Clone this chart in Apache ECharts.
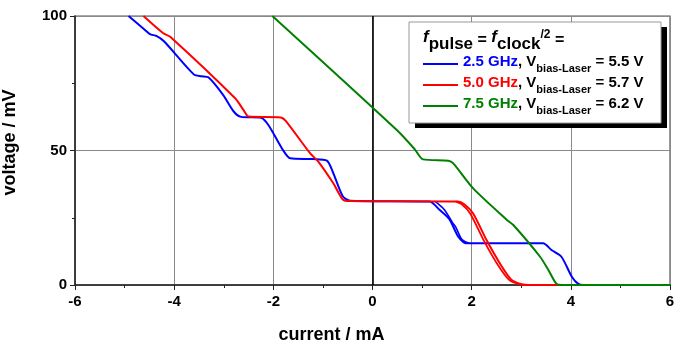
<!DOCTYPE html>
<html>
<head>
<meta charset="utf-8">
<script src="https://cdn.jsdelivr.net/npm/echarts@6/dist/echarts.min.js"></script>
<style>
  html, body { margin: 0; padding: 0; background: #fff; }
  #chart { width: 690px; height: 347px; }
</style>
</head>
<body>
<div id="chart"></div>
<script>
// values: [current mA, voltage mV]
const blue25 = [
  [-4.92, 100], [-4.6, 95], [-4.49, 93.3], [-4.35, 92.5], [-4.2, 90.5], [-3.6, 78.2],
  [-3.45, 77.6], [-3.31, 77.2], [-3.01, 70.6], [-2.8, 64.5], [-2.65, 62.5], [-2.25, 62.2],
  [-2.1, 59.5], [-1.8, 50], [-1.66, 47.1], [-1.2, 46.8], [-0.92, 46.2], [-0.8, 42],
  [-0.6, 33], [-0.45, 31.3], [1.15, 31], [1.35, 28], [1.55, 24.5], [1.73, 18],
  [1.9, 15.5], [3.44, 15.5], [3.61, 13], [3.81, 10.5], [4.02, 3.1], [4.15, 0.4],
  [4.25, 0], [4.5, 0],
];
const blue25Return = [
  [1.27, 31], [1.45, 28], [1.62, 23], [1.68, 21.5], [1.8, 17], [1.95, 15.5],
];
const red50 = [
  [-4.62, 100], [-4.22, 93.6], [-4.08, 92.3], [-2.77, 69.4], [-2.6, 65], [-2.5, 62.6],
  [-1.85, 62.3], [-1.75, 61], [-1.26, 49], [-1.09, 45.8], [-0.79, 37.8], [-0.6, 31.8],
  [-0.45, 31.2], [1.72, 31], [1.85, 30], [2.03, 26.6], [2.3, 16.7], [2.57, 8],
  [2.8, 2], [3.0, 0.3], [3.15, 0], [6, 0],
];
const red50Return = [
  [1.68, 31], [1.8, 30], [1.97, 26.6], [2.24, 16.7], [2.51, 8], [2.75, 2], [2.95, 0.3], [3.1, 0],
];
const green75 = [
  [-2.02, 100], [0.49, 57.6], [0.85, 50.5], [1.02, 46.7], [1.53, 46.2], [1.63, 45.2],
  [2.03, 35.9], [2.71, 24.2], [2.84, 22.3], [3.38, 10.5], [3.55, 5.5], [3.71, 0.4],
  [3.82, 0], [6, 0],
];

const seriesNames = ["2.5 GHz", "5.0 GHz", "7.5 GHz"];
const biasVoltages = ["5.5 V", "5.7 V", "6.2 V"];
const xTicks = [-6, 6, 2];
const yTicks = [0, 100, 50];

const FONT = "'Liberation Sans', Arial, sans-serif";
const BLUE = "#0000ff";
const RED = "#ff0000";
const GREEN = "#008000";

const chart = echarts.init(document.getElementById("chart"), null, { renderer: "canvas" });

function line(name, data, color, width, z) {
  return {
    name,
    type: "line",
    data,
    smooth: 0.25,
    symbol: "none",
    lineStyle: { color, width },
    itemStyle: { color },
    z,
  };
}

const txt = { fontWeight: "bold", fontSize: 15, fontFamily: FONT, lineHeight: 20, verticalAlign: "top" };
const legendRich = {
  b: Object.assign({ color: BLUE }, txt),
  r: Object.assign({ color: RED }, txt),
  g: Object.assign({ color: GREEN }, txt),
  k: Object.assign({ color: "#000" }, txt),
  s: { color: "#000", fontWeight: "bold", fontSize: 11, fontFamily: FONT, verticalAlign: "bottom" },
};
const colorKey = { "2.5 GHz": "b", "5.0 GHz": "r", "7.5 GHz": "g" };

chart.setOption({
  animation: false,
  grid: {
    left: 75, right: 20, top: 16, bottom: 62,
    outerBoundsMode: "none",
    show: true, borderColor: "#555", borderWidth: 1.2, backgroundColor: "transparent",
  },
  xAxis: {
    type: "value",
    min: xTicks[0], max: xTicks[1], interval: xTicks[2],
    name: "current / mA",
    nameLocation: "middle",
    nameGap: 41,
    nameTextStyle: { fontFamily: FONT, fontWeight: "bold", fontSize: 18, color: "#000", padding: [0, 82, 0, 0] },
    axisLine: { lineStyle: { color: "#222", width: 1.5 } },
    axisTick: { length: 5, lineStyle: { color: "#222" } },
    minorTick: { show: true, splitNumber: 2, length: 3, lineStyle: { color: "#222" } },
    axisLabel: { fontFamily: FONT, fontWeight: "bold", fontSize: 15, color: "#000", margin: 9 },
    splitLine: { show: true, lineStyle: { color: "#8a8a8a", width: 1 } },
  },
  yAxis: {
    type: "value",
    min: yTicks[0], max: yTicks[1], interval: yTicks[2],
    name: "voltage / mV",
    nameLocation: "middle",
    nameGap: 56,
    nameRotate: 90,
    nameTextStyle: { fontFamily: FONT, fontWeight: "bold", fontSize: 18, color: "#000", padding: [0, 0, 0, 16] },
    axisLine: { onZero: false, lineStyle: { color: "#222", width: 1.5 } },
    axisTick: { length: 5, lineStyle: { color: "#222" } },
    minorTick: { show: true, splitNumber: 2, length: 3, lineStyle: { color: "#222" } },
    axisLabel: { fontFamily: FONT, fontWeight: "bold", fontSize: 15, color: "#000", margin: 8 },
    splitLine: { show: true, lineStyle: { color: "#8a8a8a", width: 1 } },
  },
  legend: {
    orient: "vertical",
    left: 423,
    top: 54,
    padding: 0,
    z: 100,
    icon: "rect",
    itemWidth: 35,
    itemHeight: 2,
    itemGap: 1,
    data: seriesNames,
    selectedMode: false,
    formatter: (name) => {
      const i = seriesNames.indexOf(name);
      return `{${colorKey[name]}|${name}}{k|, V}{s|bias-Laser}{k| = ${biasVoltages[i]}}`;
    },
    textStyle: { rich: legendRich },
  },
  graphic: [
    {
      type: "rect",
      shape: { x: 415, y: 27, width: 252, height: 101 },
      style: { fill: "#000" },
      z: 88,
    },
    {
      type: "rect",
      shape: { x: 409, y: 22, width: 252, height: 101 },
      style: { fill: "#fff", stroke: "#999", lineWidth: 1 },
      z: 90,
    },
    {
      type: "text",
      left: 423,
      top: 29,
      z: 100,
      style: {
        text: "{f|f}{s|pulse}{n| = }{f|f}{s|clock}{t|/2}{n| =}",
        rich: {
          f: { fontFamily: FONT, fontWeight: "bold", fontStyle: "italic", fontSize: 17, fill: "#000", lineHeight: 24, verticalAlign: "top" },
          s: { fontFamily: FONT, fontWeight: "bold", fontSize: 17, fill: "#000", verticalAlign: "bottom" },
          n: { fontFamily: FONT, fontWeight: "bold", fontSize: 16, fill: "#000", lineHeight: 24, verticalAlign: "middle" },
          t: { fontFamily: FONT, fontWeight: "bold", fontSize: 12, fill: "#000", verticalAlign: "top", lineHeight: 24 },
        },
      },
    },
  ],
  series: [
    line("2.5 GHz", blue25, BLUE, 2, 2),
    line("2.5 GHz", blue25Return, BLUE, 1.6, 2),
    line("5.0 GHz", red50, RED, 2, 3),
    line("5.0 GHz", red50Return, RED, 1.8, 3),
    Object.assign(line("7.5 GHz", green75, GREEN, 2, 4), {
      markLine: {
        silent: true,
        symbol: "none",
        label: { show: false },
        lineStyle: { color: "#000", width: 1.6, type: "solid" },
        data: [{ xAxis: 0 }],
        z: 1,
      },
    }),
  ],
});
</script>
</body>
</html>
